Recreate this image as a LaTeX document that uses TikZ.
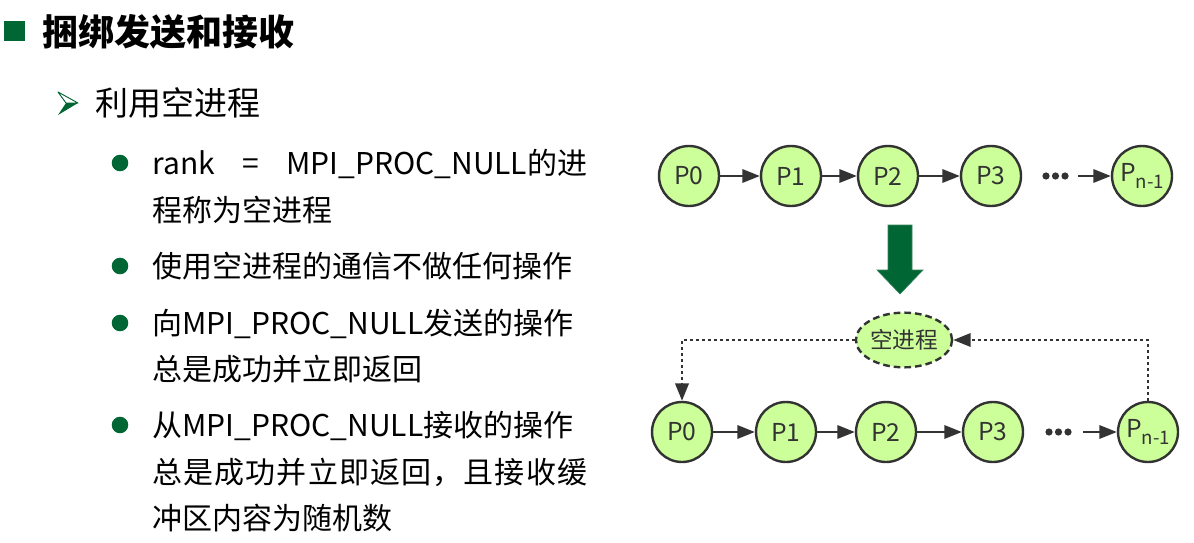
\documentclass[tikz,border=0pt]{standalone}
\usepackage{fontspec}
\setmainfont{Noto Sans CJK SC}
\usetikzlibrary{arrows.meta,shapes.geometric}
\definecolor{mpigreen}{RGB}{0,102,51}
\definecolor{procfill}{RGB}{204,255,153}
\definecolor{procline}{RGB}{51,51,51}
\newcommand\procsub{P\raisebox{-5pt}{\fontsize{14}{14}\selectfont n-1}}
\tikzset{
	proc/.style={circle,draw=procline,fill=procfill,line width=1.8pt,minimum size=45pt,inner sep=0pt,text=procline,font=\fontsize{18.5}{18.5}\selectfont},
	nullproc/.style={ellipse,draw=procline,fill=procfill,line width=1.8pt,dash pattern=on 5pt off 3pt,minimum width=72pt,minimum height=41pt,inner sep=0pt,text=procline,font=\fontsize{17}{17}\selectfont},
	pass/.style={-{Triangle[length=13pt,width=10pt]},draw=procline,line width=1.5pt},
	hop/.style={pass,line width=1.8pt,dash pattern=on 1.8pt off 2.7pt},
	bodytext/.style={anchor=base west,inner sep=0pt,yshift=-0.38*#1,font=\fontsize{#1}{#1}\selectfont},
	bodytext/.default=22.5pt,
}

\begin{document}
\begin{tikzpicture}[x=0.75pt,y=-0.75pt]
			%%%%% START %%%%%
			\def\linew{326.25pt}
			\def\ytop{176}
			\def\ybot{432}
			\useasboundingbox (0,0) rectangle (1194,542);
			
			% heading
			\fill[mpigreen] (4,21) rectangle (25,41);
			\node[bodytext=27pt,font=\fontsize{27}{27}\selectfont\bfseries] (title) at (42,32) {捆绑发送和接收};
			\draw[mpigreen,line width=0.7pt,line join=round] (58,92) -- (78,103) -- (66,103) -- cycle;
			\fill[mpigreen] (66,103) -- (78,103) -- (58,115) -- cycle;
			\node[bodytext=24.75pt] (sub) at (95,103) {利用空进程};
			
			% bullets
			\foreach \y in {163,266,323,425} \fill[mpigreen] (120,\y) circle (6.2pt);
			\node[bodytext] (l1) at (152,163) {\hbox to \linew{rank\hfill=\hfill MPI\_PROC\_NULL的进}};
			\node[bodytext] (l2) at (152,210) {程称为空进程};
			\node[bodytext] (l3) at (152,266) {使用空进程的通信不做任何操作};
			\node[bodytext] (l4) at (152,323) {向MPI\_PROC\_NULL发送的操作};
			\node[bodytext] (l5) at (152,369) {总是成功并立即返回};
			\node[bodytext] (l6) at (152,425) {从MPI\_PROC\_NULL接收的操作};
			\node[bodytext] (l7) at (152,472) {\hbox to \linew{总\hfil 是\hfil 成\hfil 功\hfil 并\hfil 立\hfil 即\hfil 返\hfil 回\hfil ，\hfil 且\hfil 接\hfil 收\hfil 缓}};
			\node[bodytext] (l8) at (152,518) {冲区内容为随机数};
			
			% top row
			\foreach \n/\x/\t in {a0/689/P0,a1/791/P1,a2/888/P2,a3/991/P3} \node[proc] (\n) at (\x,\ytop) {\t};
			\node[proc] (aN) at (1142,\ytop) {\procsub};
			\foreach \i/\j in {a0/a1,a1/a2,a2/a3} \draw[pass] (\i) -- (\j);
			\foreach \x in {1046,1055.5,1065} \fill[procline] (\x,\ytop) circle (2.7pt);
			\coordinate (aD) at (1078,\ytop);
			\draw[pass] (aD) -- (aN);
			
			% big arrow
			\draw[mpigreen!80!white,fill=mpigreen,line width=0.5pt] (888,225) -- (912,225) -- (912,270) -- (923,270) -- (900,294) -- (877,270) -- (888,270) -- cycle;
			
			% bottom row
			\node[nullproc] (null) at (904,340) {空进程};
			\foreach \n/\x/\t in {b0/682/P0,b1/786/P1,b2/886/P2,b3/993/P3} \node[proc] (\n) at (\x,\ybot) {\t};
			\node[proc] (bN) at (1148,\ybot) {\procsub};
			\foreach \i/\j in {b0/b1,b1/b2,b2/b3} \draw[pass] (\i) -- (\j);
			\foreach \x in {1049,1058.5,1068} \fill[procline] (\x,\ybot) circle (2.7pt);
			\coordinate (bD) at (1083,\ybot);
			\draw[pass] (bD) -- (bN);
			\draw[hop] (null.west) -| (b0.north);
			\draw[hop] (bN.north) |- (null.east);
			%%%%% END %%%%%
\end{tikzpicture}
\end{document}
